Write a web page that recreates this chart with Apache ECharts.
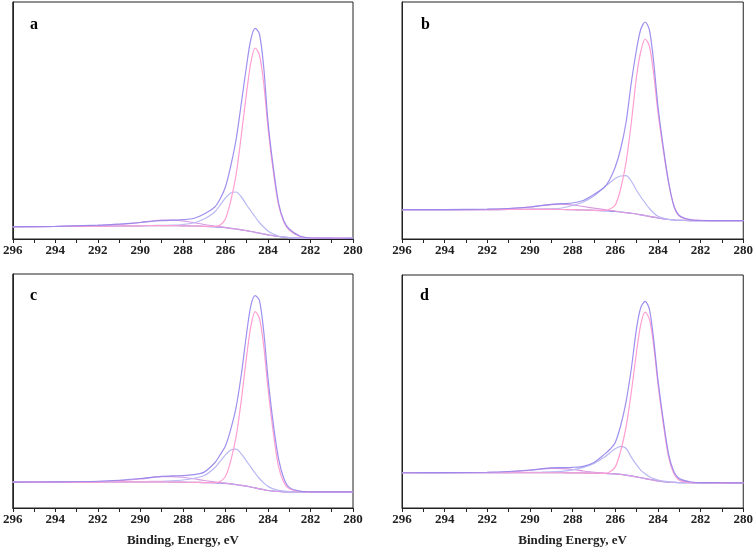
<!DOCTYPE html>
<html>
<head>
<meta charset="utf-8">
<title>C1s spectra</title>
<script src="https://cdn.jsdelivr.net/npm/echarts@6/dist/echarts.min.js"></script>
<style>
  html, body { margin: 0; padding: 0; background: #fff; }
  #chart { width: 756px; height: 548px; }
</style>
</head>
<body>
<div id="chart"></div>
<script>
// binding energy sample points (eV), shared by all curves
const energies = [296, 294, 292, 291, 290, 289.5, 289, 288.5, 288, 287.5, 287, 286.5, 286.25, 286, 285.75, 285.5, 285.25, 285, 284.8, 284.6, 284.4, 284.2, 284, 283.75, 283.5, 283.25, 283, 282.5, 282, 281, 280]
const xTicks = [296, 294, 292, 290, 288, 286, 284, 282, 280]
const panelLabels = ['a', 'b', 'c', 'd']

// panel a
const envA = [12.3, 12.7, 13.8, 15, 16.5, 17.5, 18.3, 18.8, 19.3, 20.5, 25, 32, 40, 52, 73, 99, 136, 174, 200, 210.7, 205, 172, 118, 72, 36, 18, 10, 3, 1, 0.8, 0.7]
const pinkA = [12.3, 12.5, 12.8, 13, 13.2, 13.3, 13.3, 13.3, 13.2, 13, 12.7, 12.5, 14, 20, 38, 64, 104, 147, 177, 191, 184, 156, 112, 68, 34, 17, 9, 2.5, 1, 0.6, 0.6]
const lavA = [12.3, 12.5, 12.9, 13.1, 13.3, 13.5, 13.6, 13.9, 14.5, 16, 20, 27, 34, 41, 46, 47, 42, 34, 28, 22, 16.5, 12, 8, 5, 3, 2, 1.3, 0.8, 0.6, 0.6, 0.6]
const ocoA = [12.3, 12.5, 13.5, 14.5, 16.5, 18, 19, 19, 18, 16.5, 14.5, 13, 12.2, 11.6, 10.7, 10, 9.2, 8.3, 7.5, 6.7, 5.8, 5, 4.2, 3.3, 2.5, 1.8, 1.3, 0.8, 0.6, 0.6, 0.6]
const bgA = [12.3, 12.5, 12.8, 13, 13.2, 13.3, 13.3, 13.3, 13.2, 13, 12.7, 12.2, 11.8, 11.3, 10.7, 10, 9.2, 8.3, 7.5, 6.7, 5.8, 5, 4.2, 3.3, 2.5, 1.8, 1.3, 0.8, 0.6, 0.6, 0.6]

// panel b
const envB = [29.3, 29.4, 29.8, 30.5, 32, 33.5, 34.7, 35.3, 36, 38.5, 44.5, 52, 60, 72, 90, 116, 156, 190, 210, 217, 209, 177, 133, 92, 57, 33, 23.5, 19.3, 18.5, 18.3, 18.3]
const pinkB = [29.3, 29.3, 29.4, 29.5, 29.6, 29.6, 29.6, 29.5, 29.3, 29, 28.7, 28.6, 30, 34, 50, 76, 116, 163, 188, 200, 193, 165, 127, 89, 56, 33, 23, 19.3, 18.6, 18.3, 18.3]
const lavB = [29.3, 29.4, 29.5, 29.6, 29.8, 30, 30.2, 31, 33.5, 37, 43, 52, 56.5, 60.5, 63, 63.3, 58, 48.5, 42, 36, 30.5, 26, 22.7, 20.8, 19.6, 19, 18.7, 18.4, 18.3, 18.3, 18.3]
const ocoB = [29.3, 29.4, 29.6, 30.3, 31.8, 33.2, 34.3, 34.8, 34, 32.5, 30.8, 29.3, 28.5, 28, 27, 26.4, 25.7, 25, 24.2, 23.4, 22.6, 21.8, 21, 20.2, 19.5, 19, 18.7, 18.4, 18.3, 18.3, 18.3]
const bgB = [29.3, 29.3, 29.4, 29.5, 29.6, 29.6, 29.6, 29.5, 29.3, 29, 28.7, 28.2, 27.9, 27.5, 27, 26.4, 25.7, 25, 24.2, 23.4, 22.6, 21.8, 21, 20.2, 19.5, 19, 18.7, 18.4, 18.3, 18.3, 18.3]

// panel c
const envC = [26.3, 26.6, 27.2, 28.2, 30, 31.2, 32.2, 32.7, 33, 34, 36.5, 46, 54, 63, 80, 102, 136, 178, 206, 216, 211, 180, 133, 86, 50, 30, 21, 17.2, 16.5, 16.3, 16.3]
const pinkC = [26.3, 26.3, 26.4, 26.5, 26.5, 26.5, 26.5, 26.4, 26.3, 26.1, 25.9, 25.8, 27, 32, 48, 72, 110, 155, 185, 199.7, 193, 165, 122, 77, 42, 26, 19.5, 16.8, 16.4, 16.3, 16.3]
const lavC = [26.3, 26.4, 26.5, 26.6, 26.8, 27, 27.2, 27.7, 28.5, 30, 33, 41, 47.5, 54, 59, 59.8, 55, 47.5, 41.5, 35.5, 30, 25.5, 22, 19.5, 18, 17.2, 16.7, 16.4, 16.3, 16.3, 16.3]
const ocoC = [26.3, 26.4, 26.8, 27.8, 29.5, 30.8, 31.8, 32, 31.3, 29.8, 28, 26.5, 25.8, 25.3, 24.5, 23.8, 23, 22.2, 21.3, 20.4, 19.5, 18.6, 17.8, 17.2, 16.8, 16.5, 16.4, 16.3, 16.3, 16.3, 16.3]
const bgC = [26.3, 26.3, 26.4, 26.5, 26.5, 26.5, 26.5, 26.4, 26.3, 26.1, 25.9, 25.6, 25.3, 25, 24.5, 23.8, 23, 22.2, 21.3, 20.4, 19.5, 18.6, 17.8, 17.2, 16.8, 16.5, 16.4, 16.3, 16.3, 16.3, 16.3]

// panel d
const envD = [36, 36.1, 36.5, 37.3, 38.8, 40, 41, 41.2, 41.5, 42.5, 46.5, 55, 60, 67, 84, 108, 142, 184, 205, 211, 203, 172, 131, 90, 55, 37, 30, 26.8, 26, 25.8, 25.7]
const pinkD = [36, 36, 36, 36, 36, 36, 36, 36, 35.9, 35.8, 35.6, 35.3, 37, 42, 58, 82, 118, 160, 188, 200, 193, 166, 127, 86, 52, 35, 28.5, 26.2, 25.8, 25.7, 25.7]
const lavD = [36, 36, 36.1, 36.2, 36.3, 36.5, 36.8, 37.5, 39, 41.5, 45.5, 52, 56.5, 60.5, 63, 61, 52, 44, 38.5, 35, 32, 30, 28.6, 27.5, 26.8, 26.3, 26, 25.8, 25.7, 25.7, 25.7]
const ocoD = [36, 36.1, 36.3, 37, 38.5, 39.6, 40.4, 40.2, 39.3, 37.8, 36.5, 35.6, 35.2, 34.9, 34.3, 33.6, 32.8, 31.8, 30.9, 30, 29.2, 28.4, 27.7, 27, 26.5, 26.2, 26, 25.8, 25.7, 25.7, 25.7]
const bgD = [36, 36, 36, 36, 36, 36, 36, 36, 35.9, 35.8, 35.6, 35.3, 35.1, 34.8, 34.3, 33.6, 32.8, 31.8, 30.9, 30, 29.2, 28.4, 27.7, 27, 26.5, 26.2, 26, 25.8, 25.7, 25.7, 25.7]

const panels = [
  { env: envA, pink: pinkA, lav: lavA, oco: ocoA, bg: bgA },
  { env: envB, pink: pinkB, lav: lavB, oco: ocoB, bg: bgB },
  { env: envC, pink: pinkC, lav: lavC, oco: ocoC, bg: bgC },
  { env: envD, pink: pinkD, lav: lavD, oco: ocoD, bg: bgD },
]

const grids = [
  { left: 11, top: 2, width: 342, height: 237 },
  { left: 402, top: 2, width: 343, height: 237 },
  { left: 11, top: 274, width: 342, height: 238 },
  { left: 402, top: 275, width: 343, height: 238 },
]
const axisNames = ['', '', 'Binding, Energy, eV', 'Binding Energy, eV']
const labelPos = [[30, 17], [421, 17], [30, 288], [420, 288]]

const serif = '"Liberation Serif", "DejaVu Serif", serif'
const colors = {
  bg: '#8f90e4',
  oco: '#d99be2',
  lav: '#b9b8f4',
  pink: '#ff9fd2',
  env: '#9384ec',
}

const toPairs = (vals) => energies.map((e, i) => [e, vals[i]])

const chart = echarts.init(document.getElementById('chart'))

const series = []
panels.forEach((p, idx) => {
  ;['bg', 'oco', 'lav', 'pink', 'env'].forEach((key) => {
    series.push({
      type: 'line',
      xAxisIndex: idx,
      yAxisIndex: idx,
      data: toPairs(p[key]),
      smooth: 0.3,
      showSymbol: false,
      silent: true,
      lineStyle: { color: colors[key], width: 1.2, opacity: key === 'env' ? 0.9 : 1 },
      z: 2,
    })
  })
})

const option = {
  animation: false,
  backgroundColor: '#fff',
  title: panelLabels.map((t, i) => ({
    text: t,
    left: labelPos[i][0],
    top: labelPos[i][1],
    padding: 0,
    textStyle: { fontFamily: serif, fontWeight: 'bold', fontSize: 16, color: '#000' },
  })),
  grid: grids.map((g) => ({ ...g, show: true, borderColor: '#222', borderWidth: 1, backgroundColor: 'transparent' })),
  xAxis: grids.map((g, i) => ({
    type: 'value',
    gridIndex: i,
    inverse: true,
    min: 280,
    max: 296,
    interval: 2,
    name: axisNames[i],
    nameLocation: 'middle',
    nameGap: 26,
    nameTextStyle: { fontFamily: serif, fontWeight: 'bold', fontSize: 13, color: '#222' },
    axisLine: { show: true, onZero: false, lineStyle: { color: '#222', width: 1 } },
    axisTick: { show: true, inside: false, length: 4, lineStyle: { color: '#222' } },
    minorTick: { show: true, splitNumber: 2, length: 4, lineStyle: { color: '#222' } },
    splitLine: { show: false },
    axisLabel: {
      fontFamily: serif,
      fontWeight: 'bold',
      fontSize: 13,
      color: '#222',
      margin: 5,
      formatter: (v) => (xTicks.includes(v) ? String(v) : ''),
    },
  })),
  yAxis: grids.map((g, i) => ({
    type: 'value',
    gridIndex: i,
    min: 0,
    max: g.height,
    axisLine: { show: true, lineStyle: { color: '#222' } },
    axisTick: { show: false },
    axisLabel: { show: false },
    splitLine: { show: false },
  })),
  series,
}

chart.setOption(option)
window.addEventListener('resize', () => chart.resize())
</script>
</body>
</html>
